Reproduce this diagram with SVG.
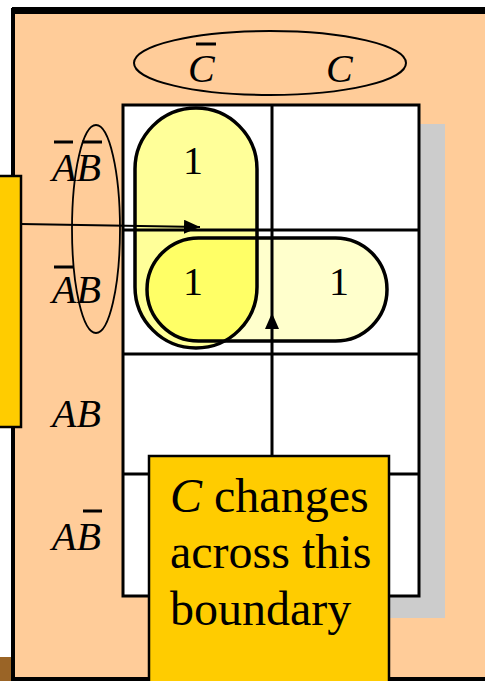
<svg xmlns="http://www.w3.org/2000/svg" width="485" height="681" viewBox="0 0 485 681">
<style>
.lbl{font-family:"Liberation Serif","Times New Roman",serif;font-size:40px;font-style:italic;fill:#000}
.one{font-family:"Liberation Serif","Times New Roman",serif;font-size:40px;fill:#000;text-anchor:middle}
.call{font-family:"Liberation Serif","Times New Roman",serif;font-size:48px;fill:#000}
.bar{stroke:#000;stroke-width:3}
.grid{stroke:#000;stroke-width:3;fill:none}
.loop{stroke:#000;stroke-width:3.5;fill:none}
.box{fill:#FFCC00;stroke:#000;stroke-width:2.5}
.conn{stroke:#000;stroke-width:1.8;fill:none}
</style>
<defs>
<marker id="ah" markerUnits="userSpaceOnUse" markerWidth="18" markerHeight="16" refX="16" refY="7" orient="auto">
<path d="M0,0 L16,7 L0,14 z" fill="#000"/>
</marker>
<clipPath id="vclip"><rect x="135" y="108" width="122" height="240" rx="61"/></clipPath>
</defs>
<rect width="485" height="681" fill="#fff"/>
<g id="frame">
<rect x="13" y="10" width="480" height="669" fill="#FFCC99" stroke="#000" stroke-width="4"/>
<rect x="12" y="7" width="473" height="7" fill="#000"/>
<rect x="0" y="657" width="11" height="24" fill="#9A6426"/>
</g>
<g id="kmap">
<rect x="148" y="124" width="297" height="494" fill="#CCCCCC"/>
<rect x="123" y="105" width="296" height="491" fill="#fff"/>
<g id="loop-fills">
<rect x="135" y="108" width="122" height="240" rx="61" fill="#FFFF99"/>
<rect x="147" y="238" width="240" height="103" rx="51.5" fill="#FFFFCC"/>
<rect x="147" y="238" width="240" height="103" rx="51.5" fill="#FFFF66" clip-path="url(#vclip)"/>
</g>
<g id="grid-lines">
<rect class="grid" x="123" y="105" width="296" height="491"/>
<line class="grid" x1="272" y1="105" x2="272" y2="596"/>
<line class="grid" x1="123" y1="230" x2="419" y2="230"/>
<line class="grid" x1="123" y1="354" x2="419" y2="354"/>
<line class="grid" x1="123" y1="474" x2="419" y2="474"/>
</g>
<g id="loop-vertical"><rect class="loop" x="135" y="108" width="122" height="240" rx="61"/></g>
<g id="loop-horizontal"><rect class="loop" x="147" y="238" width="240" height="103" rx="51.5"/></g>
<g id="cells">
<text class="one" x="193" y="174">1</text>
<text class="one" x="193" y="295">1</text>
<text class="one" x="339" y="295">1</text>
</g>
</g>
<g id="col-labels">
<ellipse cx="270" cy="63" rx="136" ry="32" fill="none" stroke="#000" stroke-width="2"/>
<text class="lbl" x="188" y="82">C</text>
<line class="bar" x1="196" y1="44" x2="216" y2="44"/>
<text class="lbl" x="326" y="82">C</text>
</g>
<g id="row-labels">
<ellipse cx="96" cy="229" rx="24" ry="104" fill="none" stroke="#000" stroke-width="1.8"/>
<text class="lbl" x="52" y="181">AB</text>
<line class="bar" x1="54" y1="142" x2="73" y2="142"/>
<line class="bar" x1="82" y1="142" x2="102" y2="142"/>
<text class="lbl" x="52" y="303">AB</text>
<line class="bar" x1="54" y1="267" x2="73" y2="267"/>
<text class="lbl" x="52" y="427">AB</text>
<text class="lbl" x="52" y="550">AB</text>
<line class="bar" x1="83" y1="511" x2="102" y2="511"/>
</g>
<g id="connectors">
<line class="conn" x1="21" y1="224" x2="200" y2="227" marker-end="url(#ah)"/>
<line class="conn" x1="272" y1="456" x2="272" y2="313" marker-end="url(#ah)"/>
</g>
<g id="callout-left">
<rect class="box" x="-10" y="176" width="31" height="251"/>
</g>
<g id="callout-bottom">
<rect class="box" x="149" y="456" width="240" height="240"/>
<text class="call" x="170" y="512"><tspan font-style="italic">C</tspan> changes</text>
<text class="call" x="170" y="568">across this</text>
<text class="call" x="170" y="625">boundary</text>
</g>
</svg>
